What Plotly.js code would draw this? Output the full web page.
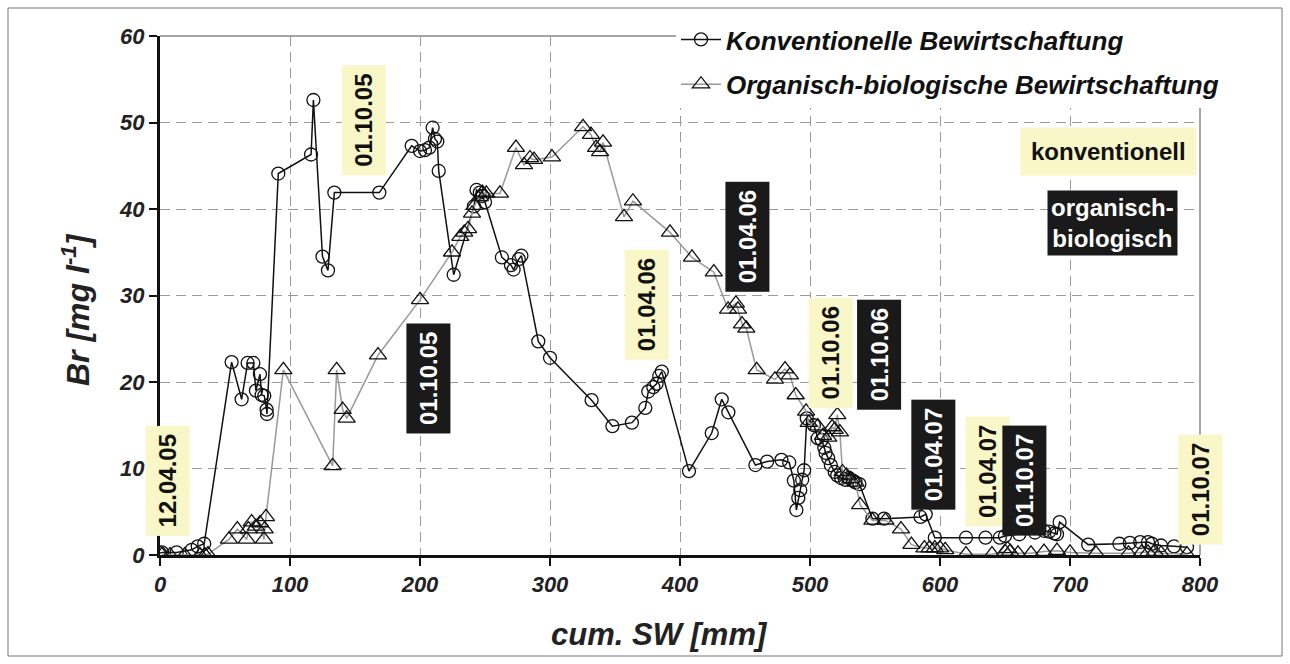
<!DOCTYPE html>
<html><head><meta charset="utf-8">
<script src="https://cdn.plot.ly/plotly-3.0.1.min.js"></script>
<style>html,body{margin:0;padding:0;background:#fff}#plot{width:1290px;height:664px}</style>
</head><body><div id="plot"></div>
<script>
// Konventionelle Bewirtschaftung
const konvX = [0,1.5,12.8,24.4,29,34,55.1,62.8,67.4,71.8,73.8,76.9,78.2,80.2,82,82.3,91,116.2,118,125,129.2,134.1,168.7,193.6,200,203.8,207.2,209.7,211.5,213.3,214.4,225.9,241.5,243.5,246,248,250,263,270,272,276,278,291,300,332,348,363,373.3,375.6,379.5,382,384,386,406.9,424.4,432.1,437.2,458,467,478,484,487.6,489.5,491,492.5,494,495.5,497.5,503,506,509,511,512,514,516,519,521,524,527,530,533,535,538,548,557,585,589,596,620,635,646,650,661,673,680,684,688,690,692,714,738,746,754,760,763,770,780,790];
const konvY = [0.2,0.3,0.3,0.6,1.0,1.3,22.3,18.0,22.2,22.2,19.0,20.9,18.5,18.4,16.8,16.3,44.1,46.3,52.6,34.5,32.9,41.9,41.9,47.3,46.7,46.8,47.1,49.4,48.1,47.8,44.4,32.4,40.3,42.2,41.9,41.5,40.8,34.4,33.5,33.0,34.2,34.6,24.7,22.8,17.9,14.9,15.3,17.0,18.9,19.4,19.8,20.7,21.2,9.7,14.1,18.0,16.5,10.4,10.8,11.0,10.7,8.6,5.2,6.6,7.5,8.7,9.8,15.8,15.0,13.5,13.3,12.4,11.8,11.2,10.4,9.6,9.2,8.9,8.7,8.9,8.6,8.4,8.2,4.2,4.2,4.4,4.7,2.0,2.0,2.0,2.0,2.2,2.4,2.6,2.8,2.7,2.5,2.4,3.8,1.2,1.3,1.4,1.5,1.5,1.3,1.1,1.0,0.9];
// Organisch-biologische Bewirtschaftung
const orgX = [1.5,7.7,19,30.8,34.6,36.9,53,59.5,66.7,68,70.5,73.8,76.9,80,80.5,81.5,94.9,132.8,135.9,140.5,143.6,167.7,200,224.6,231,234,237,240,242,246,248,251,261.5,273.8,280,284.6,287.7,301.5,325.4,331.5,335.4,338.5,340.8,356.9,363.8,392.3,409.2,426,437,443,444.6,447.7,451,459,473,480.8,484.6,489,497,499,506,510,514,517,519,521,523,525,528,531,535,538.5,548,558,570,578,588,592,596,600,604,620,640,650,652,654,660,670,680,690,700,720,745,755,760,765,770,790];
const orgY = [0,0,0,0,0,0.1,1.8,3.0,1.8,3.0,3.8,3.3,3.7,1.8,3.0,4.4,21.4,10.3,21.4,16.8,15.8,23.1,29.5,35.0,36.8,37.3,37.7,39.5,40.4,41.4,41.9,41.8,41.8,47.1,45.1,45.9,45.7,46.0,49.5,48.6,47.1,46.6,47.7,39.1,40.9,37.3,34.4,32.7,28.4,29.1,28.4,26.7,26.2,21.4,20.3,21.5,20.8,18.5,16.6,15.3,14.9,13.8,13.6,14.8,14.5,16.2,14.2,9.6,9.2,8.8,8.4,5.8,4.0,4.0,3.0,1.2,0.8,0.8,0.8,0.8,0.6,0.1,0.1,0.4,0.7,0.4,0.2,0.2,0.4,0.5,0.3,0.2,0.2,0.3,0.3,0.4,0.2,0.1];

const xTicks = [0,100,200,300,400,500,600,700,800];
const yTicks = [0,10,20,30,40,50,60];

// date labels: text, x, y (data coords)
const yellowLabels = [
  ["12.04.05", 6, 8.6],
  ["01.10.05", 157, 50.2],
  ["01.04.06", 374, 28.9],
  ["01.10.06", 516, 23.4],
  ["01.04.07", 637, 9.6],
  ["01.10.07", 800, 7.5]
];
const blackLabels = [
  ["01.10.05", 206.5, 20.4],
  ["01.04.06", 452, 36.8],
  ["01.10.06", 553, 23.2],
  ["01.04.07", 595, 11.6],
  ["01.10.07", 665, 8.6]
];

const F = "Liberation Sans, Arial, sans-serif";
const ann = [];
yellowLabels.forEach(([t,x,y]) => ann.push({x:x,y:y,xref:'x',yref:'y',text:'<b>'+t+'</b>',showarrow:false,textangle:-90,
  font:{family:F,size:24,color:'#111'},bgcolor:'#f9f6c8',borderpad:8}));
blackLabels.forEach(([t,x,y]) => ann.push({x:x,y:y,xref:'x',yref:'y',text:'<b>'+t+'</b>',showarrow:false,textangle:-90,
  font:{family:F,size:24,color:'#fff'},bgcolor:'#1a1a1a',borderpad:8}));
// pixel positions converted to paper coordinates
const px2x = p => (p-160)/1040, px2y = p => (555-p)/519;
ann.push({x:px2x(1108),y:px2y(151),xref:'paper',yref:'paper',xanchor:'center',yanchor:'middle',text:'<b>konventionell</b>',showarrow:false,
  font:{family:F,size:24,color:'#111'},bgcolor:'#f9f6c8',borderpad:10});
ann.push({x:px2x(1112),y:px2y(223),xref:'paper',yref:'paper',xanchor:'center',yanchor:'middle',text:'<b>organisch-<br>biologisch</b>',showarrow:false,
  font:{family:F,size:24,color:'#fff'},bgcolor:'#1a1a1a',borderpad:3});
// axis titles
ann.push({x:px2x(659),y:px2y(634),xref:'paper',yref:'paper',xanchor:'center',yanchor:'middle',showarrow:false,
  text:'cum. SW [mm]',font:{family:F,size:31,color:'#222',weight:'bold',style:'italic'}});
ann.push({x:px2x(76),y:px2y(310),xref:'paper',yref:'paper',xanchor:'center',yanchor:'middle',showarrow:false,textangle:-90,
  text:'Br [mg l<sup>-1</sup>]',font:{family:F,size:32,color:'#222',weight:'bold',style:'italic'}});

const traces = [
  {x:konvX,y:konvY,name:'Konventionelle Bewirtschaftung',legendgroup:'a',mode:'lines+markers',type:'scatter',
   line:{color:'#111',width:1.5},marker:{symbol:'circle-open',size:13,color:'#111',line:{width:1.3}}},
  {x:orgX,y:orgY,name:'Organisch-biologische Bewirtschaftung',legendgroup:'b',mode:'lines+markers',type:'scatter',
   line:{color:'#999',width:1.5},marker:{symbol:'triangle-up-open',size:15,color:'#111',line:{width:1.3}}}
];

const tickFont = {family:F,size:22,color:'#222',weight:'bold',style:'italic'};
const layout = {
  width:1290,height:664,margin:{l:160,r:90,t:36,b:109},
  paper_bgcolor:'#fff',plot_bgcolor:'#fff',showlegend:true,
  legend:{x:px2x(676),y:px2y(16),xanchor:'left',yanchor:'top',bgcolor:'#fff',
    font:{family:F,size:26,color:'#111',weight:'bold',style:'italic'},tracegroupgap:8,itemwidth:40},
  xaxis:{range:[0,800],tickvals:xTicks,ticks:'outside',ticklen:8,tickwidth:2,tickcolor:'#111',
    showline:true,linecolor:'#111',linewidth:3,showgrid:true,gridcolor:'#9a9a9a',griddash:'10px,6px',gridwidth:1,zeroline:false,
    tickfont:tickFont},
  yaxis:{range:[0,60],tickvals:yTicks,ticks:'outside',ticklen:8,tickwidth:2,tickcolor:'#111',
    showline:true,linecolor:'#111',linewidth:3,showgrid:true,gridcolor:'#9a9a9a',griddash:'10px,6px',gridwidth:1,zeroline:false,
    tickfont:tickFont},
  shapes:[
    {type:'line',xref:'paper',yref:'paper',x0:0,x1:1,y0:1,y1:1,line:{color:'#888',width:1.5},layer:'below'},
    {type:'line',xref:'paper',yref:'paper',x0:1,x1:1,y0:0,y1:1,line:{color:'#888',width:1.5},layer:'below'},
    {type:'rect',xref:'paper',yref:'paper',x0:px2x(8),x1:px2x(1282),y0:px2y(656),y1:px2y(8),line:{color:'#777',width:1}}
  ],
  annotations:ann
};
Plotly.newPlot('plot',traces,layout,{displayModeBar:false,staticPlot:true});
</script></body></html>
